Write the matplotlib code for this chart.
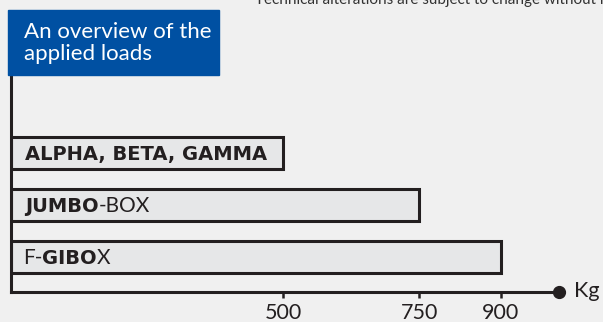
import matplotlib
matplotlib.use("Agg")
import matplotlib.pyplot as plt
from matplotlib.patches import Rectangle

# ---------------------------------------------------------
# DADOS
# ---------------------------------------------------------
produtos = ["F-GIBOX", "JUMBO-BOX", "ALPHA, BETA, GAMMA"]
cargas_kg = [900, 750, 500]
# partes do rotulo: (texto, negrito?)
rotulos = [
    [("F-", False), ("GIBO", True), ("X", False)],
    [("JUMBO", True), ("-BOX", False)],
    [("ALPHA, BETA, GAMMA", True)],
]
ticks_kg = [500, 750, 900]
titulo = ["An overview of the", "applied loads"]
aviso = "Technical alterations are subject to change without notice."

FUNDO = "#f0f0f0"
AZUL = "#0050a2"
ESCURO = "#231f20"
BARRA = "#e6e7e8"
FONTE = "Lato"
FONTE_BOLD = "DejaVu Sans"

W, H = 603, 322
fig = plt.figure(figsize=(W / 100, H / 100), dpi=100, facecolor=FUNDO)
renderer = fig.canvas.get_renderer()

# eixo: x=0 em px 11, fim (ponto) em px 559; linha base em y=292, topo y=75
ax = fig.add_axes([11 / W, (H - 292) / H, 548 / W, 217 / H])
ax.set_facecolor("none")
ax.set_xlim(0, 1007)
ax.set_ylim(-0.673, 3.5)

y = list(range(len(produtos)))
ax.barh(y, cargas_kg, height=0.6, color=BARRA, edgecolor=ESCURO,
        linewidth=2.2, zorder=2)

# rotulos com partes em negrito (encadeados pela largura medida)
for yi, partes in zip(y, rotulos):
    off = 14 if partes[0][1] else 12
    for txt, bold in partes:
        if bold:
            kw = dict(fontsize=14, fontweight="bold", family=FONTE_BOLD)
        else:
            kw = dict(fontsize=15, fontweight="normal", family=FONTE)
        t = ax.annotate(txt, xy=(0, yi), xytext=(off, -7),
                        textcoords="offset pixels", ha="left", va="baseline",
                        color=ESCURO, zorder=3, **kw)
        off += t.get_window_extent(renderer).width

for s in ["top", "right"]:
    ax.spines[s].set_visible(False)
for s in ["left", "bottom"]:
    ax.spines[s].set_linewidth(2.2)
    ax.spines[s].set_color(ESCURO)

ax.set_yticks([])
ax.set_xticks(ticks_kg)
ax.set_xticklabels([str(t) for t in ticks_kg], fontsize=15.5, color=ESCURO,
                   family=FONTE)
ax.tick_params(axis="x", length=4, width=1.8, color=ESCURO, pad=4)

ax.plot([1007], [-0.673], "o", color=ESCURO, markersize=8.5, clip_on=False, zorder=5)
ax.annotate("Kg", xy=(1007, -0.673), xytext=(11, 1), textcoords="offset points",
            fontsize=15.5, color=ESCURO, family=FONTE,
            va="center", ha="left", annotation_clip=False)

# caixa azul do titulo
fig.patches.append(Rectangle((8 / W, (H - 75) / H), 211 / W, 65 / H,
                             transform=fig.transFigure, color=AZUL, zorder=0))
for linha, base_px in zip(titulo, [37.5, 60]):
    fig.text(24 / W, (H - base_px) / H, linha, color="white", fontsize=16,
             family=FONTE, fontweight="normal", va="baseline", ha="left")

# aviso cortado no topo
fig.text(255 / W, (H - 4) / H, aviso, color="#333333", fontsize=11,
         family=FONTE, va="baseline", ha="left")

fig.savefig("out.png", dpi=100, facecolor=FUNDO)
